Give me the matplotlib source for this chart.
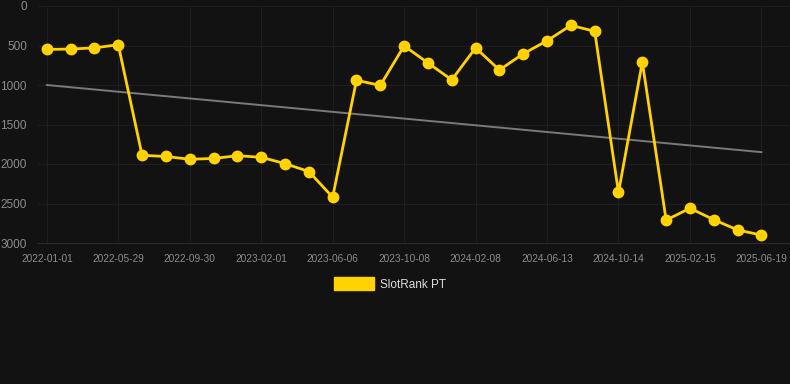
import numpy as np
import matplotlib
matplotlib.use("Agg")
import matplotlib.pyplot as plt
from matplotlib.patches import Patch

plt.rcParams['font.family'] = ['Liberation Sans', 'DejaVu Sans']

# rank values (one point roughly every 6 weeks)
rank = [550, 545, 530, 490, 1890, 1905, 1940, 1930, 1895, 1915, 1995,
        2095, 2420, 940, 1005, 505, 720, 935, 530, 810, 605, 440, 245,
        320, 2360, 710, 2710, 2560, 2705, 2835, 2900]

tick_labels = ['2022-01-01', '2022-05-29', '2022-09-30', '2023-02-01',
               '2023-06-06', '2023-10-08', '2024-02-08', '2024-06-13',
               '2024-10-14', '2025-02-15', '2025-06-19']

trend_start = 1000
trend_end = 1850

bg = '#121212'
gold = '#FFD200'

x = np.arange(len(rank))

fig = plt.figure(figsize=(7.9, 3.84), dpi=100, facecolor=bg)
ax = fig.add_axes([47/790 - 9/790, 1 - 243/384, (790 - 38)/790, (243 - 6)/384])
ax.set_facecolor(bg)

ax.plot([x[0], x[-1]], [trend_start, trend_end], color='#7a7a7a', lw=1.4, zorder=2)
ax.plot(x, rank, color=gold, lw=2.0, marker='o', ms=7.5,
        solid_joinstyle='miter', zorder=3)

ax.set_ylim(3000, 0)
ax.set_xlim(-0.37, 31.2)
ax.set_yticks([0, 500, 1000, 1500, 2000, 2500, 3000])
ax.set_xticks(x[::3])
ax.set_xticklabels(tick_labels)
ax.tick_params(axis='y', colors='#8c8c8c', labelsize=8.5, length=0, pad=8)
ax.tick_params(axis='x', colors='#8c8c8c', labelsize=7.3, length=0, pad=8)
ax.grid(True, color='#1e1e1e', lw=0.8)
ax.set_axisbelow(True)
for s in ax.spines.values():
    s.set_visible(False)
ax.spines['bottom'].set_visible(True)
ax.spines['bottom'].set_color('#2a2a2a')
ax.spines['bottom'].set_linewidth(0.8)

h = Patch(facecolor=gold, edgecolor=gold)
leg = fig.legend([h], ['SlotRank PT'], loc='center', bbox_to_anchor=(390/790, 1 - 284/384),
                 frameon=False, fontsize=8.5, handlelength=3.4, handleheight=1.2,
                 handletextpad=0.5, labelcolor='#dddddd')

fig.savefig('out.png', dpi=100, facecolor=bg)
